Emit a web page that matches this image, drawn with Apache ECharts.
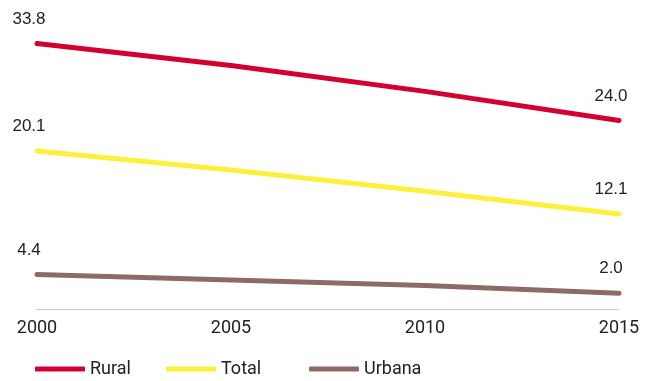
<!DOCTYPE html>
<html lang="es">
<head>
    <meta charset="UTF-8">
    <title>Chart</title>
    <script src="https://cdn.jsdelivr.net/npm/echarts@6/dist/echarts.min.js"></script>
</head>
<body style="margin:0">
<div id="myChart" style="width: 649px;height: 381px;"></div>
<script>
    var years = ['2000', '2005', '2010', '2015'];
    var rural = [33.8, 31.0, 27.7, 24.0];
    var total = [20.1, 17.7, 15.0, 12.1];
    var urbana = [4.4, 3.7, 3.0, 2.0];

    // only the first and last point get a value label
    function ends(arr) {
        return arr.map(function (v, i) {
            var show = (i === 0 || i === arr.length - 1);
            return { value: v, label: { show: show } };
        });
    }

    function makeSeries(name, color, arr) {
        return {
            name: name,
            type: 'line',
            data: ends(arr),
            symbol: 'circle',
            symbolSize: 2,
            showSymbol: true,
            itemStyle: { color: color },
            lineStyle: { color: color, width: 5, cap: 'round' },
            label: {
                show: false,
                position: 'top',
                distance: 15,
                offset: [-8, 0],
                color: '#222',
                fontSize: 17,
                fontFamily: 'Liberation Sans',
                formatter: function (p) { return p.value.toFixed(1); }
            },
            animation: false
        };
    }

    function legendAt(left, name) {
        return {
            left: left,
            top: 360,
            padding: 0,
            data: [name],
            icon: 'roundRect',
            itemWidth: 50,
            itemHeight: 5,
            textStyle: { color: '#222', fontSize: 18, fontFamily: 'Roboto' }
        };
    }

    var myChart = echarts.init(document.getElementById('myChart'));
    var option = {
        legend: [
            legendAt(35, 'Rural'),
            legendAt(166, 'Total'),
            legendAt(309, 'Urbana')
        ],
        grid: {
            left: 37,
            right: 30,
            top: 34,
            bottom: 72
        },
        xAxis: {
            type: 'category',
            boundaryGap: false,
            data: years,
            axisLine: { lineStyle: { color: '#bbb', type: 'dotted', width: 1 } },
            axisTick: { show: false },
            axisLabel: {
                color: '#222',
                fontSize: 18,
                fontFamily: 'Roboto',
                margin: 10
            }
        },
        yAxis: {
            type: 'value',
            min: 0,
            max: 35,
            show: false,
            splitLine: { show: false }
        },
        series: [
            makeSeries('Rural', '#d50032', rural),
            makeSeries('Total', '#fdf03c', total),
            makeSeries('Urbana', '#8e6a64', urbana)
        ]
    };
    myChart.setOption(option);
</script>
</body>
</html>
